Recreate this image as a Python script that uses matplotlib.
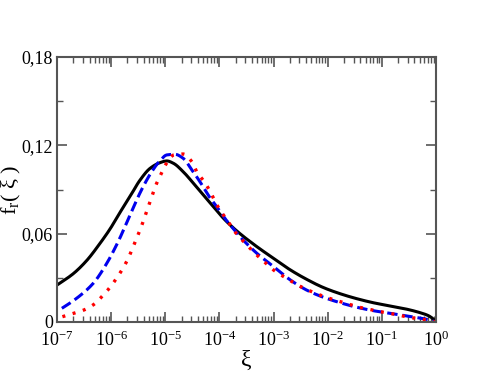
import matplotlib
matplotlib.use("Agg")
import matplotlib.pyplot as plt
from matplotlib.ticker import FixedLocator, LogLocator, NullFormatter, FuncFormatter
import numpy as np

plt.rcParams['font.family'] = ['Liberation Serif', 'DejaVu Serif']
plt.rcParams['mathtext.fontset'] = 'custom'
plt.rcParams['mathtext.rm'] = 'Liberation Serif'
plt.rcParams['mathtext.it'] = 'Liberation Serif:italic'

# log10(xi) and f_r values
black_logx = [-7.0, -6.70, -6.45, -6.21, -6.02, -5.84, -5.65, -5.47, -5.28, -5.10, -4.97, -4.85, -4.67, -4.48,
              -4.30, -4.11, -3.93, -3.74, -3.56, -3.44, -3.31, -3.00, -2.70, -2.39, -2.08, -1.77, -1.46,
              -1.16, -0.85, -0.54, -0.30, -0.14, -0.05, 0.0]
black_y = [0.0251, 0.0328, 0.0418, 0.0532, 0.0632, 0.0742, 0.0853, 0.0962, 0.1044, 0.1082, 0.1094, 0.1078, 0.1021,
           0.0942, 0.0863, 0.0783, 0.0706, 0.0638, 0.0582, 0.0548, 0.0512, 0.0432, 0.0356, 0.0290, 0.0234, 0.0192,
           0.0158, 0.0131, 0.0109, 0.0087, 0.0064, 0.0043, 0.0020, 0.0]

blue_logx = [-6.91, -6.67, -6.33, -6.08, -5.87, -5.65, -5.44, -5.25, -5.10, -4.97, -4.82, -4.67, -4.51,
             -4.36, -4.21, -4.05, -3.90, -3.74, -3.60, -3.31, -3.00, -2.70, -2.39, -2.08, -1.77, -1.46,
             -1.16, -0.85, -0.54, -0.23, 0.0]
blue_y = [0.0093, 0.0152, 0.0263, 0.0399, 0.0546, 0.0727, 0.0897, 0.1021, 0.1095, 0.1135, 0.1139, 0.1112, 0.1033,
          0.0953, 0.0863, 0.0783, 0.0704, 0.0632, 0.0572, 0.0467, 0.0376, 0.0288, 0.0217, 0.0168, 0.0131, 0.0100,
          0.0077, 0.0059, 0.0041, 0.0023, 0.0]

red_logx = [-6.90, -6.69, -6.50, -6.31, -6.16, -6.02, -5.90, -5.79, -5.69, -5.61, -5.53, -5.45, -5.38,
            -5.31, -5.24, -5.17, -5.08, -4.99, -4.84, -4.67, -4.51, -4.42, -4.28, -4.17, -4.08, -3.97,
            -3.85, -3.74, -3.61, -3.47, -3.31, -3.16, -3.00, -2.83, -2.65, -2.46, -2.27, -2.06, -1.87,
            -1.66, -1.46, -1.26, -1.07, -0.85, -0.65, -0.45, -0.23, 0.0]
red_y = [0.0036, 0.0059, 0.0082, 0.0122, 0.0177, 0.0236, 0.0297, 0.0360, 0.0428, 0.0496, 0.0568, 0.0641, 0.0713,
         0.0788, 0.0861, 0.0933, 0.1003, 0.1071, 0.1135, 0.1141, 0.1089, 0.1021, 0.0953, 0.0885, 0.0817, 0.0749,
         0.0688, 0.0625, 0.0569, 0.0514, 0.0455, 0.0405, 0.0353, 0.0312, 0.0272, 0.0233, 0.0202, 0.0172, 0.0149,
         0.0127, 0.0104, 0.0088, 0.0073, 0.0059, 0.0043, 0.0029, 0.0018, 0.0]

y_ticks = [0, 0.06, 0.12, 0.18]
y_tick_labels = ['0', '0,06', '0,12', '0,18']


def smooth(lx, ly, n=600):
    lx = np.asarray(lx, float); ly = np.asarray(ly, float)
    t = np.linspace(lx[0], lx[-1], n)
    h = np.diff(lx); d = np.diff(ly) / h
    m = np.zeros_like(ly)
    for k in range(1, len(ly) - 1):
        if d[k - 1] * d[k] > 0:
            w1 = 2 * h[k] + h[k - 1]; w2 = h[k] + 2 * h[k - 1]
            m[k] = (w1 + w2) / (w1 / d[k - 1] + w2 / d[k])
    m[0] = d[0]; m[-1] = d[-1]
    idx = np.clip(np.searchsorted(lx, t) - 1, 0, len(h) - 1)
    s = (t - lx[idx]) / h[idx]
    h00 = 2 * s**3 - 3 * s**2 + 1; h10 = s**3 - 2 * s**2 + s
    h01 = -2 * s**3 + 3 * s**2; h11 = s**3 - s**2
    y = h00 * ly[idx] + h10 * h[idx] * m[idx] + h01 * ly[idx + 1] + h11 * h[idx] * m[idx + 1]
    return 10**t, y


fig = plt.figure(figsize=(4.91, 3.79), dpi=100)
ax = fig.add_axes([57 / 491, 1 - 322 / 379, (436 - 57) / 491, (322 - 57) / 379])

bx, by = smooth(black_logx, black_y)
ax.plot(bx, by, color='black', lw=2.2, solid_capstyle='round')
ux, uy = smooth(blue_logx, blue_y)
ax.plot(ux, uy, color='#0000ee', lw=2.2, dashes=(3.4, 1.6))
rx, ry = smooth(red_logx, red_y)
ax.plot(rx, ry, color='#ff0000', lw=2.4, linestyle=(0, (0.9, 2.3)), dash_capstyle='butt')

ax.set_xscale('log')
ax.set_xlim(1e-7, 1)
ax.set_ylim(0, 0.18)
ax.xaxis.set_major_locator(LogLocator(base=10, numticks=20))
ax.xaxis.set_minor_locator(LogLocator(base=10, subs=np.arange(2, 10), numticks=20))
ax.xaxis.set_minor_formatter(NullFormatter())
ax.xaxis.set_major_formatter(FuncFormatter(lambda v, p: r'$\mathregular{10^{%d}}$' % round(np.log10(v))))
ax.yaxis.set_major_locator(FixedLocator(y_ticks))
ax.set_yticklabels(y_tick_labels)
ax.yaxis.set_minor_locator(FixedLocator([0.03, 0.09, 0.15]))

for s in ax.spines.values():
    s.set_color('#555555')
    s.set_linewidth(1.5)
ax.tick_params(which='both', direction='in', top=True, right=True, color='#555555', labelsize=13)
ax.tick_params(axis='x', pad=6)
ax.tick_params(axis='y', pad=3)
ax.tick_params(which='major', length=7, width=1.2)
ax.tick_params(which='minor', length=4, width=1.0)

ax.set_xlabel('ξ', fontsize=17, labelpad=0)
ax.set_ylabel(r'f$_\mathregular{r}$( ξ )', fontsize=16)
ax.yaxis.set_label_coords(-0.09, 0.5)

fig.savefig('out.png', dpi=100)
